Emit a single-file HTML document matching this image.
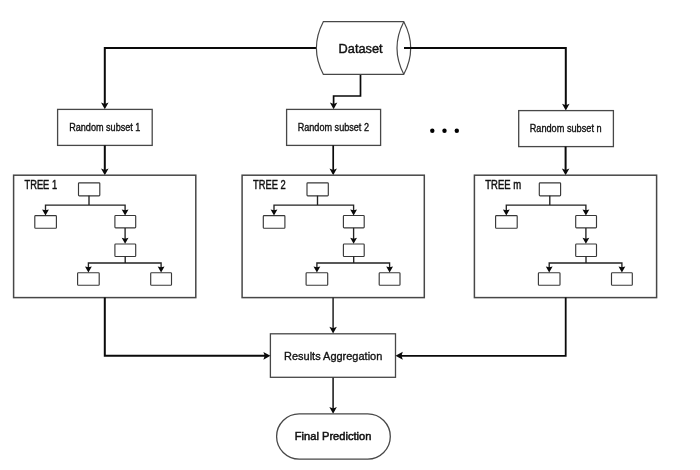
<!DOCTYPE html>
<html><head><meta charset="utf-8"><style>
html,body{margin:0;padding:0;background:#fff;width:700px;height:470px;overflow:hidden}
svg{display:block;will-change:transform}
text{font-family:"Liberation Sans",sans-serif}
</style></head><body>
<svg width="700" height="470" viewBox="0 0 700 470">
<path d="M317,48 H104.8 V106" fill="none" stroke="#0a0a0a" stroke-width="2" stroke-linejoin="miter"/>
<path d="M101.05,102.50 L104.80,104.10 L108.55,102.50 L104.80,109.30 Z" fill="#0a0a0a"/>
<path d="M404,48 H565.8 V107" fill="none" stroke="#0a0a0a" stroke-width="2" stroke-linejoin="miter"/>
<path d="M562.05,103.70 L565.80,105.30 L569.55,103.70 L565.80,110.50 Z" fill="#0a0a0a"/>
<path d="M360.5,74 V96 H333.6 V106" fill="none" stroke="#0a0a0a" stroke-width="1.7" stroke-linejoin="miter"/>
<path d="M329.90,102.40 L333.60,104.00 L337.30,102.40 L333.60,109.20 Z" fill="#0a0a0a"/>
<path d="M323.3,21.7 H403.8 Q417.6,48 403.8,74.3 H323.3 Q309.5,48 323.3,21.7 Z" fill="#fff" stroke="#474747" stroke-width="1.2"/>
<path d="M403.8,21.7 Q390.2,48 403.8,74.3" fill="none" stroke="#474747" stroke-width="1.2"/>
<path d="M404,48 H412" fill="none" stroke="#0a0a0a" stroke-width="2" stroke-linejoin="miter"/>
<text x="338.60" y="52.90" font-size="13.2" font-weight="normal" fill="#111" stroke="#111" stroke-width="0.45" textLength="44.00" lengthAdjust="spacingAndGlyphs">Dataset</text>
<rect x="57.60" y="109.40" width="94.60" height="36.00" fill="#fff" stroke="#474747" stroke-width="1.3"/>
<text x="69.20" y="130.50" font-size="10.2" font-weight="normal" fill="#111" stroke="#111" stroke-width="0.35" textLength="71.20" lengthAdjust="spacingAndGlyphs">Random subset 1</text>
<rect x="286.60" y="109.40" width="94.00" height="36.00" fill="#fff" stroke="#474747" stroke-width="1.3"/>
<text x="297.70" y="130.50" font-size="10.2" font-weight="normal" fill="#111" stroke="#111" stroke-width="0.35" textLength="71.30" lengthAdjust="spacingAndGlyphs">Random subset 2</text>
<rect x="518.70" y="110.60" width="94.70" height="36.00" fill="#fff" stroke="#474747" stroke-width="1.3"/>
<text x="529.70" y="131.70" font-size="10.2" font-weight="normal" fill="#111" stroke="#111" stroke-width="0.35" textLength="71.90" lengthAdjust="spacingAndGlyphs">Random subset n</text>
<circle cx="432.3" cy="130.7" r="2.2" fill="#000"/>
<circle cx="444.5" cy="130.7" r="2.2" fill="#000"/>
<circle cx="456.8" cy="130.7" r="2.2" fill="#000"/>
<path d="M104.8,145.4 V172" fill="none" stroke="#0a0a0a" stroke-width="2" stroke-linejoin="miter"/>
<path d="M101.05,168.40 L104.80,170.00 L108.55,168.40 L104.80,175.20 Z" fill="#0a0a0a"/>
<path d="M333.2,145.4 V172" fill="none" stroke="#0a0a0a" stroke-width="1.7" stroke-linejoin="miter"/>
<path d="M329.50,168.40 L333.20,170.00 L336.90,168.40 L333.20,175.20 Z" fill="#0a0a0a"/>
<path d="M565.6,146.6 V172" fill="none" stroke="#0a0a0a" stroke-width="2" stroke-linejoin="miter"/>
<path d="M561.85,168.40 L565.60,170.00 L569.35,168.40 L565.60,175.20 Z" fill="#0a0a0a"/>
<rect x="13.60" y="175.20" width="182.20" height="122.40" fill="#fff" stroke="#474747" stroke-width="1.5"/>
<text x="24.50" y="188.50" font-size="11.9" font-weight="normal" fill="#111" stroke="#111" stroke-width="0.45" textLength="32.60" lengthAdjust="spacingAndGlyphs">TREE 1</text>
<rect x="78.50" y="182.80" width="21.30" height="13.00" rx="0.8" fill="#fff" stroke="#383838" stroke-width="1.15"/>
<path d="M89.0,195.8 V205.1 H45.5 V212 M89.0,205.1 H125.1 V212" fill="none" stroke="#222" stroke-width="1.35" stroke-linejoin="miter"/>
<rect x="34.80" y="215.60" width="21.60" height="12.60" rx="0.8" fill="#fff" stroke="#383838" stroke-width="1.15"/>
<rect x="114.90" y="215.50" width="20.80" height="12.40" rx="0.8" fill="#fff" stroke="#383838" stroke-width="1.15"/>
<path d="M42.10,209.40 L45.50,210.30 L48.90,209.40 L45.50,215.40 Z" fill="#0a0a0a"/>
<path d="M121.70,209.40 L125.10,210.30 L128.50,209.40 L125.10,215.40 Z" fill="#0a0a0a"/>
<path d="M125.1,227.9 V241" fill="none" stroke="#222" stroke-width="1.35" stroke-linejoin="miter"/>
<rect x="114.90" y="244.00" width="20.80" height="12.50" rx="0.8" fill="#fff" stroke="#383838" stroke-width="1.15"/>
<path d="M121.70,237.80 L125.10,238.70 L128.50,237.80 L125.10,243.80 Z" fill="#0a0a0a"/>
<path d="M125.2,256.5 V263.0 H88.4 V269.5 M125.2,263.0 H161.1 V269.5" fill="none" stroke="#222" stroke-width="1.35" stroke-linejoin="miter"/>
<rect x="77.60" y="272.70" width="21.60" height="12.50" rx="0.8" fill="#fff" stroke="#383838" stroke-width="1.15"/>
<rect x="150.70" y="272.70" width="20.80" height="12.50" rx="0.8" fill="#fff" stroke="#383838" stroke-width="1.15"/>
<path d="M85.00,266.40 L88.40,267.30 L91.80,266.40 L88.40,272.40 Z" fill="#0a0a0a"/>
<path d="M157.70,266.40 L161.10,267.30 L164.50,266.40 L161.10,272.40 Z" fill="#0a0a0a"/>
<rect x="242.10" y="175.20" width="182.20" height="122.40" fill="#fff" stroke="#474747" stroke-width="1.5"/>
<text x="253.00" y="188.50" font-size="11.9" font-weight="normal" fill="#111" stroke="#111" stroke-width="0.45" textLength="32.70" lengthAdjust="spacingAndGlyphs">TREE 2</text>
<rect x="307.00" y="182.80" width="21.30" height="13.00" rx="0.8" fill="#fff" stroke="#383838" stroke-width="1.15"/>
<path d="M317.5,195.8 V205.1 H274.0 V212 M317.5,205.1 H353.6 V212" fill="none" stroke="#222" stroke-width="1.35" stroke-linejoin="miter"/>
<rect x="263.30" y="215.60" width="21.60" height="12.60" rx="0.8" fill="#fff" stroke="#383838" stroke-width="1.15"/>
<rect x="343.40" y="215.50" width="20.80" height="12.40" rx="0.8" fill="#fff" stroke="#383838" stroke-width="1.15"/>
<path d="M270.60,209.40 L274.00,210.30 L277.40,209.40 L274.00,215.40 Z" fill="#0a0a0a"/>
<path d="M350.20,209.40 L353.60,210.30 L357.00,209.40 L353.60,215.40 Z" fill="#0a0a0a"/>
<path d="M353.6,227.9 V241" fill="none" stroke="#222" stroke-width="1.35" stroke-linejoin="miter"/>
<rect x="343.40" y="244.00" width="20.80" height="12.50" rx="0.8" fill="#fff" stroke="#383838" stroke-width="1.15"/>
<path d="M350.20,237.80 L353.60,238.70 L357.00,237.80 L353.60,243.80 Z" fill="#0a0a0a"/>
<path d="M353.7,256.5 V263.0 H316.9 V269.5 M353.7,263.0 H389.6 V269.5" fill="none" stroke="#222" stroke-width="1.35" stroke-linejoin="miter"/>
<rect x="306.10" y="272.70" width="21.60" height="12.50" rx="0.8" fill="#fff" stroke="#383838" stroke-width="1.15"/>
<rect x="379.20" y="272.70" width="20.80" height="12.50" rx="0.8" fill="#fff" stroke="#383838" stroke-width="1.15"/>
<path d="M313.50,266.40 L316.90,267.30 L320.30,266.40 L316.90,272.40 Z" fill="#0a0a0a"/>
<path d="M386.20,266.40 L389.60,267.30 L393.00,266.40 L389.60,272.40 Z" fill="#0a0a0a"/>
<rect x="474.40" y="175.20" width="182.20" height="122.40" fill="#fff" stroke="#474747" stroke-width="1.5"/>
<text x="485.30" y="188.50" font-size="11.9" font-weight="normal" fill="#111" stroke="#111" stroke-width="0.45" textLength="35.90" lengthAdjust="spacingAndGlyphs">TREE m</text>
<rect x="539.30" y="182.80" width="21.30" height="13.00" rx="0.8" fill="#fff" stroke="#383838" stroke-width="1.15"/>
<path d="M549.8,195.8 V205.1 H506.3 V212 M549.8,205.1 H585.9 V212" fill="none" stroke="#222" stroke-width="1.35" stroke-linejoin="miter"/>
<rect x="495.60" y="215.60" width="21.60" height="12.60" rx="0.8" fill="#fff" stroke="#383838" stroke-width="1.15"/>
<rect x="575.70" y="215.50" width="20.80" height="12.40" rx="0.8" fill="#fff" stroke="#383838" stroke-width="1.15"/>
<path d="M502.90,209.40 L506.30,210.30 L509.70,209.40 L506.30,215.40 Z" fill="#0a0a0a"/>
<path d="M582.50,209.40 L585.90,210.30 L589.30,209.40 L585.90,215.40 Z" fill="#0a0a0a"/>
<path d="M585.9,227.9 V241" fill="none" stroke="#222" stroke-width="1.35" stroke-linejoin="miter"/>
<rect x="575.70" y="244.00" width="20.80" height="12.50" rx="0.8" fill="#fff" stroke="#383838" stroke-width="1.15"/>
<path d="M582.50,237.80 L585.90,238.70 L589.30,237.80 L585.90,243.80 Z" fill="#0a0a0a"/>
<path d="M586.0,256.5 V263.0 H549.2 V269.5 M586.0,263.0 H621.9 V269.5" fill="none" stroke="#222" stroke-width="1.35" stroke-linejoin="miter"/>
<rect x="538.40" y="272.70" width="21.60" height="12.50" rx="0.8" fill="#fff" stroke="#383838" stroke-width="1.15"/>
<rect x="611.50" y="272.70" width="20.80" height="12.50" rx="0.8" fill="#fff" stroke="#383838" stroke-width="1.15"/>
<path d="M545.80,266.40 L549.20,267.30 L552.60,266.40 L549.20,272.40 Z" fill="#0a0a0a"/>
<path d="M618.50,266.40 L621.90,267.30 L625.30,266.40 L621.90,272.40 Z" fill="#0a0a0a"/>
<rect x="270.40" y="333.80" width="125.10" height="43.50" fill="#fff" stroke="#474747" stroke-width="1.3"/>
<path d="M104.8,297.6 V355.8 H266" fill="none" stroke="#0a0a0a" stroke-width="2" stroke-linejoin="miter"/>
<path d="M263.40,351.95 L264.70,355.80 L263.40,359.65 L270.40,355.80 Z" fill="#0a0a0a"/>
<path d="M333.1,297.6 V330" fill="none" stroke="#2e2e2e" stroke-width="1.6" stroke-linejoin="miter"/>
<path d="M329.35,326.70 L333.10,328.30 L336.85,326.70 L333.10,333.50 Z" fill="#0a0a0a"/>
<path d="M565.7,297.6 V355.8 H399" fill="none" stroke="#0a0a0a" stroke-width="1.8" stroke-linejoin="miter"/>
<path d="M402.80,351.80 L401.50,355.80 L402.80,359.80 L395.50,355.80 Z" fill="#0a0a0a"/>
<text x="284.00" y="359.60" font-size="11.8" font-weight="normal" fill="#111" stroke="#111" stroke-width="0.35" textLength="98.30" lengthAdjust="spacingAndGlyphs">Results Aggregation</text>
<path d="M333.1,377.4 V410" fill="none" stroke="#2e2e2e" stroke-width="1.7" stroke-linejoin="miter"/>
<path d="M329.35,406.90 L333.10,408.50 L336.85,406.90 L333.10,413.70 Z" fill="#0a0a0a"/>
<rect x="276.6" y="413.9" width="113.7" height="45.2" rx="22.6" ry="22.6" fill="#fff" stroke="#474747" stroke-width="1.3"/>
<text x="294.80" y="440.40" font-size="11.1" font-weight="normal" fill="#111" stroke="#111" stroke-width="0.5" textLength="76.60" lengthAdjust="spacingAndGlyphs">Final Prediction</text>
</svg>
</body></html>
